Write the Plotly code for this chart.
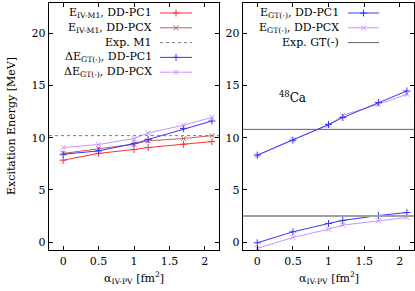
import plotly.graph_objects as go

# ---------------- data ----------------
alpha = [0.0, 0.5, 1.0, 1.2, 1.7, 2.1]

# left panel
e_m1_pc1 = [7.85, 8.5, 8.87, 9.06, 9.38, 9.63]
e_m1_pcx = [8.5, 8.97, 9.38, 9.7, 9.92, 10.2]
exp_m1 = 10.2
de_gt_pc1 = [8.42, 8.74, 9.44, 9.83, 10.88, 11.6]
de_gt_pcx = [9.06, 9.35, 9.92, 10.46, 11.2, 11.95]

# right panel (two GT(-) states)
e_gt_pc1_high = [8.33, 9.76, 11.26, 11.93, 13.37, 14.48]
e_gt_pcx_high = [8.3, 9.8, 11.2, 12.15, 13.2, 14.16]
e_gt_pc1_low = [-0.06, 0.99, 1.79, 2.08, 2.55, 2.84]
e_gt_pcx_low = [-0.6, 0.45, 1.24, 1.63, 2.04, 2.36]
exp_gt = [10.8, 2.5]

xticks = [0, 0.5, 1, 1.5, 2]
yticks = [0, 5, 10, 15, 20]

# ---------------- style ----------------
W, H = 415, 291
FONT = "DejaVu Serif"
FS = 11
RED = "#ff3030"
BROWN = "#cc5a5a"
BLUE = "#3535ff"
VIOLET = "#c595ff"
MS = 5

def px(x):
    return x / W

def py(y):
    return 1 - y / H

fig = go.Figure()

def series(x, y, color, sym, xa, ya):
    fig.add_trace(go.Scatter(
        x=x, y=y, mode="lines+markers", xaxis=xa, yaxis=ya,
        line=dict(color=color, width=1),
        marker=dict(symbol=sym, size=MS, color=color, line=dict(color=color, width=1)),
        showlegend=False, hoverinfo="skip"))

series(alpha, e_m1_pc1, RED, "cross-thin", "x", "y")
series(alpha, e_m1_pcx, BROWN, "x-thin", "x", "y")
series(alpha, de_gt_pc1, BLUE, "cross-thin", "x", "y")
series(alpha, de_gt_pcx, VIOLET, "x-thin", "x", "y")

series(alpha, e_gt_pcx_high, VIOLET, "x-thin", "x2", "y2")
series(alpha, e_gt_pc1_high, BLUE, "cross-thin", "x2", "y2")
series(alpha, e_gt_pcx_low, VIOLET, "x-thin", "x2", "y2")
series(alpha, e_gt_pc1_low, BLUE, "cross-thin", "x2", "y2")

xr = [-0.2, 2.2]
yr = [-0.75, 22.9]

# experimental reference lines
fig.add_shape(type="line", xref="x domain", yref="y", x0=0, x1=1, y0=exp_m1, y1=exp_m1,
              line=dict(color="#777777", width=1, dash="dot"))
fig.add_shape(type="line", xref="x2 domain", yref="y2", x0=0, x1=1, y0=exp_gt[0], y1=exp_gt[0],
              line=dict(color="#606060", width=1))
fig.add_shape(type="line", xref="x2 domain", yref="y2", x0=0, x1=1, y0=exp_gt[1], y1=exp_gt[1],
              line=dict(color="#a0a0a0", width=2))

# ---------------- manual gnuplot-style legends ----------------
legend_left = [
    ("E<sub>IV-M1</sub>, DD-PC1", RED, "cross-thin", "solid"),
    ("E<sub>IV-M1</sub>, DD-PCX", BROWN, "x-thin", "solid"),
    ("Exp. M1", "#777777", None, "dot"),
    ("ΔE<sub>GT(-)</sub>, DD-PC1", BLUE, "cross-thin", "solid"),
    ("ΔE<sub>GT(-)</sub>, DD-PCX", VIOLET, "x-thin", "solid"),
]
legend_right = [
    ("E<sub>GT(-)</sub>, DD-PC1", BLUE, "cross-thin", "solid"),
    ("E<sub>GT(-)</sub>, DD-PCX", VIOLET, "x-thin", "solid"),
    ("Exp. GT(-)", "#606060", None, "solid"),
]

def draw_legend(entries, text_right, l0, l1, y0, dy):
    for i, (txt, col, sym, dash) in enumerate(entries):
        yy = y0 + i * dy
        fig.add_annotation(xref="paper", yref="paper", x=px(text_right), y=py(yy),
                           text=txt, showarrow=False, xanchor="right", yanchor="middle",
                           font=dict(family=FONT, size=FS, color="black"))
        fig.add_shape(type="line", xref="paper", yref="paper", x0=px(l0), x1=px(l1),
                      y0=py(yy), y1=py(yy), line=dict(color=col, width=1, dash=dash))
        if sym:
            fig.add_trace(go.Scatter(x=[px((l0 + l1) / 2)], y=[py(yy)], mode="markers",
                                     xaxis="x3", yaxis="y3",
                                     marker=dict(symbol=sym, size=MS, color=col,
                                                 line=dict(color=col, width=1)),
                                     showlegend=False, hoverinfo="skip"))

draw_legend(legend_left, 154, 160, 192, 13, 14.8)
draw_legend(legend_right, 341, 348, 379, 13, 14.8)

fig.add_annotation(xref="x2", yref="y2", x=0.28, y=13.9, text="<sup>48</sup>Ca",
                   showarrow=False, xanchor="left", yanchor="middle",
                   font=dict(family=FONT, size=12, color="black"))

# axis titles
xtitle_txt = "α<sub>IV-PV</sub> [fm<sup>2</sup>]"
for cx in (134, 329):
    fig.add_annotation(xref="paper", yref="paper", x=px(cx), y=py(268), text=xtitle_txt,
                       showarrow=False, xanchor="center", yanchor="top",
                       font=dict(family=FONT, size=FS, color="black"))
fig.add_annotation(xref="paper", yref="paper", x=px(11), y=py(126),
                   text="Excitation Energy [MeV]", textangle=-90, showarrow=False,
                   xanchor="center", yanchor="middle",
                   font=dict(family=FONT, size=FS, color="black"))

# ---------------- axes ----------------
ax_common = dict(showline=True, linecolor="black", linewidth=1.3, mirror="ticks",
                 ticks="inside", ticklen=4, tickcolor="black", showgrid=False,
                 zeroline=False, tickfont=dict(family=FONT, size=FS, color="black"))
dom_l = [px(49), px(219)]
dom_r = [px(243), px(414)]
dom_y = [py(250), py(3)]

fig.update_layout(
    width=W, height=H, margin=dict(l=0, r=0, t=0, b=0),
    paper_bgcolor="white", plot_bgcolor="rgba(0,0,0,0)", showlegend=False,
    xaxis=dict(domain=dom_l, range=xr, tickvals=xticks, ticktext=[str(v) for v in xticks],
               anchor="y", **ax_common),
    yaxis=dict(domain=dom_y, range=yr, tickvals=yticks, anchor="x", **ax_common),
    xaxis2=dict(domain=dom_r, range=xr, tickvals=xticks, ticktext=[str(v) for v in xticks],
                anchor="y2", **ax_common),
    yaxis2=dict(domain=dom_y, range=yr, tickvals=yticks, anchor="x2", **ax_common),
    xaxis3=dict(domain=[0, 1], range=[0, 1], visible=False, anchor="y3", fixedrange=True),
    yaxis3=dict(domain=[0, 1], range=[0, 1], visible=False, anchor="x3", fixedrange=True),
)

fig.write_html("out.html", config={"displayModeBar": False, "staticPlot": True},
               post_script="document.body.style.margin='0';document.body.style.overflow='hidden';")
